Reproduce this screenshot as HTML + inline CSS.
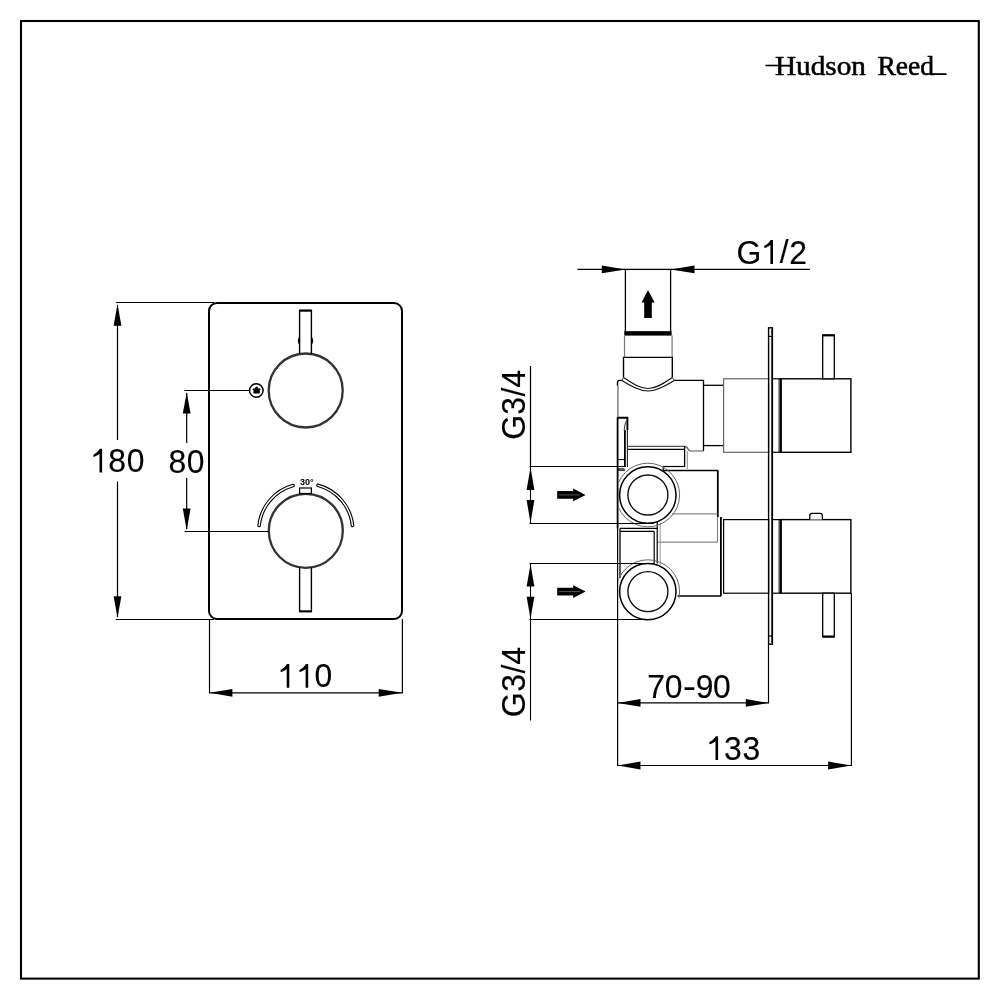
<!DOCTYPE html>
<html><head><meta charset="utf-8"><style>
html,body{margin:0;padding:0;background:#fff;width:1000px;height:1000px;overflow:hidden}
svg{display:block;will-change:transform}
</style></head><body>
<svg width="1000" height="1000" viewBox="0 0 1000 1000">
<defs><clipPath id="cl"><rect x="618.5" y="0" width="400" height="1000"/></clipPath></defs>
<rect x="21" y="21" width="957.8" height="957.6" fill="none" stroke="#000" stroke-width="2.1"/>
<text x="775" y="75" font-family="Liberation Serif" font-size="28" textLength="91" lengthAdjust="spacingAndGlyphs" stroke="#000" stroke-width="0.55">Hudson</text>
<text x="877.5" y="75" font-family="Liberation Serif" font-size="28" textLength="56.5" lengthAdjust="spacingAndGlyphs" stroke="#000" stroke-width="0.55">Reed</text>
<line x1="765.5" y1="65.5" x2="779" y2="65.5" stroke="#000" stroke-width="1.6"/>
<line x1="930" y1="74.1" x2="946.5" y2="74.1" stroke="#000" stroke-width="1.8"/>
<rect x="209" y="303" width="193" height="316" rx="8" ry="8" fill="none" stroke="#000" stroke-width="2"/>
<circle cx="305.7" cy="390.5" r="37" fill="none" stroke="#333" stroke-width="2.3"/>
<circle cx="305.8" cy="530.8" r="37" fill="none" stroke="#333" stroke-width="2.3"/>
<path d="M299.6,354 L299.6,310.5 L311.4,310.5 L311.4,354" fill="none" stroke="#000" stroke-width="1.4"/>
<line x1="299.2" y1="310.6" x2="311.8" y2="310.6" stroke="#000" stroke-width="2"/>
<path d="M299.2,337.5 Q297.6,340.8 299.2,344" fill="none" stroke="#000" stroke-width="1.2"/>
<path d="M311.8,337.5 Q313.4,340.8 311.8,344" fill="none" stroke="#000" stroke-width="1.2"/>
<path d="M299.6,567.5 L299.6,611.4 L311.4,611.4 L311.4,567.5" fill="none" stroke="#000" stroke-width="1.4"/>
<line x1="299.2" y1="611.4" x2="311.8" y2="611.4" stroke="#000" stroke-width="2"/>
<rect x="299.6" y="488" width="11.8" height="5.5" fill="#fff" stroke="#000" stroke-width="1.2"/>
<circle cx="256.3" cy="390.5" r="6.8" fill="#fff" stroke="#000" stroke-width="1.5"/>
<path d="M253.4,393.6 L253.4,390.2 L252.4,389.3 L253.6,388.3 L254.8,388.8 Q255.2,386.6 256.6,386.6 Q258,386.6 258.4,388.8 L259.6,388.3 L260.8,389.3 L259.8,390.2 L259.8,393.6 Z" fill="#000"/>
<text x="306.8" y="485.2" font-family="Liberation Sans" font-size="9" font-weight="bold" text-anchor="middle">30°</text>
<path d="M259.09,525.46 A47,47 0 0 1 293.00,485.48" fill="none" stroke="#000" stroke-width="3.6" stroke-linecap="round"/>
<path d="M259.09,525.46 A47,47 0 0 1 293.00,485.48" fill="none" stroke="#fff" stroke-width="1.4" stroke-linecap="round"/>
<path d="M318.04,485.32 A47,47 0 0 1 352.51,525.46" fill="none" stroke="#000" stroke-width="3.6" stroke-linecap="round"/>
<path d="M318.04,485.32 A47,47 0 0 1 352.51,525.46" fill="none" stroke="#fff" stroke-width="1.4" stroke-linecap="round"/>
<line x1="115.8" y1="302.5" x2="214" y2="302.5" stroke="#000" stroke-width="1.2"/>
<line x1="115.8" y1="619.5" x2="214" y2="619.5" stroke="#000" stroke-width="1.2"/>
<line x1="117.5" y1="305" x2="117.5" y2="440" stroke="#000" stroke-width="1.2"/>
<line x1="117.5" y1="481.5" x2="117.5" y2="617" stroke="#000" stroke-width="1.2"/>
<polygon points="117.5,304 113.6,325.7 121.4,325.7"/>
<polygon points="117.5,617.8 113.6,596.2 121.4,596.2"/>
<path d="M102.10,448.80 L102.10,472.40 L99.50,472.40 L99.50,453.80 C97.90,455.00 95.90,456.20 93.90,456.90 L93.30,456.40 L93.40,454.70 C95.90,453.40 98.30,451.40 99.80,448.80 Z" fill="#000"/>
<text transform="translate(117.10,472.10) scale(0.95,1)" x="-9.34" y="0" font-family="Liberation Sans" font-size="33.6" stroke="#000" stroke-width="0.15">8</text>
<text transform="translate(135.55,472.10) scale(0.95,1)" x="-9.34" y="0" font-family="Liberation Sans" font-size="33.6" stroke="#000" stroke-width="0.15">0</text>
<line x1="184.4" y1="390.5" x2="249.5" y2="390.5" stroke="#000" stroke-width="1.2"/>
<line x1="184.6" y1="531.5" x2="268.5" y2="531.5" stroke="#000" stroke-width="1.2"/>
<line x1="186.7" y1="393" x2="186.7" y2="443" stroke="#000" stroke-width="1.2"/>
<line x1="186.7" y1="478" x2="186.7" y2="529" stroke="#000" stroke-width="1.2"/>
<polygon points="186.7,392.2 182.79999999999998,413.5 190.6,413.5"/>
<polygon points="186.7,530.3 182.79999999999998,508.4 190.6,508.4"/>
<text transform="translate(177.30,472.60) scale(0.95,1)" x="-9.34" y="0" font-family="Liberation Sans" font-size="33.6" stroke="#000" stroke-width="0.15">8</text>
<text transform="translate(195.50,472.60) scale(0.95,1)" x="-9.34" y="0" font-family="Liberation Sans" font-size="33.6" stroke="#000" stroke-width="0.15">0</text>
<line x1="209.5" y1="619" x2="209.5" y2="693.6" stroke="#000" stroke-width="1.2"/>
<line x1="402.4" y1="619" x2="402.4" y2="693.6" stroke="#000" stroke-width="1.2"/>
<line x1="210" y1="692.8" x2="402" y2="692.8" stroke="#000" stroke-width="1.2"/>
<polygon points="209.7,692.8 232.4,688.9 232.4,696.6999999999999"/>
<polygon points="402.3,692.8 378.7,688.9 378.7,696.6999999999999"/>
<path d="M289.30,664.00 L289.30,687.70 L286.70,687.70 L286.70,669.00 C285.10,670.20 283.10,671.40 281.10,672.10 L280.50,671.60 L280.60,669.90 C283.10,668.60 285.50,666.60 287.00,664.00 Z" fill="#000"/>
<path d="M308.20,664.00 L308.20,687.70 L305.60,687.70 L305.60,669.00 C304.00,670.20 302.00,671.40 300.00,672.10 L299.40,671.60 L299.50,669.90 C302.00,668.60 304.40,666.60 305.90,664.00 Z" fill="#000"/>
<text transform="translate(323.45,687.40) scale(0.95,1)" x="-9.34" y="0" font-family="Liberation Sans" font-size="33.6" stroke="#000" stroke-width="0.15">0</text>
<line x1="577.5" y1="269.4" x2="625.4" y2="269.4" stroke="#000" stroke-width="1.2"/>
<line x1="670.6" y1="269.4" x2="810" y2="269.4" stroke="#000" stroke-width="1.2"/>
<polygon points="625.4,269.4 601.8,265.5 601.8,273.29999999999995"/>
<polygon points="670.6,269.4 694.5,265.5 694.5,273.29999999999995"/>
<text transform="translate(748.60,263.70) scale(0.95,1)" x="-12.66" y="0" font-family="Liberation Sans" font-size="33.6" stroke="#000" stroke-width="0.15">G</text>
<path d="M773.00,239.90 L773.00,264.00 L770.40,264.00 L770.40,244.90 C768.80,246.10 766.80,247.30 764.80,248.00 L764.20,247.50 L764.30,245.80 C766.80,244.50 769.20,242.50 770.70,239.90 Z" fill="#000"/>
<text transform="translate(784.20,263.40) scale(0.95,1)" x="-4.67" y="0" font-family="Liberation Sans" font-size="33.6" stroke="#000" stroke-width="0.15">/</text>
<text transform="translate(798.00,264.00) scale(0.95,1)" x="-9.34" y="0" font-family="Liberation Sans" font-size="33.6" stroke="#000" stroke-width="0.15">2</text>
<rect x="625.4" y="269.4" width="45.2" height="63" fill="none" stroke="#000" stroke-width="1.3"/>
<rect x="624.3" y="331.2" width="47.3" height="4.4" fill="#000"/>
<polygon points="648,290 654.6,302.4 651.8,302.4 651.8,318 644.2,318 644.2,302.4 641.6,302.4" fill="#000"/>
<line x1="624.5" y1="335.6" x2="624.5" y2="357.1" stroke="#777" stroke-width="1.2"/>
<line x1="672.1" y1="335.6" x2="672.1" y2="357.1" stroke="#777" stroke-width="1.2"/>
<path d="M623.5,377.6 L623.5,357.4 L672.3,357.4 L672.3,377.6" fill="none" stroke="#000" stroke-width="1.4"/>
<path d="M623.5,377.4 C633,383.5 640,388.5 648,388.5 C656,388.5 663,383.5 672.3,377.4" fill="none" stroke="#111" stroke-width="1.2"/>
<path d="M621.8,380.4 C632,386.5 640,391 648,391 C656,391 664,386.5 674.3,380.4" fill="none" stroke="#111" stroke-width="1.2"/>
<path d="M623.5,377.4 L621.8,380.4 M672.3,377.4 L674.3,380.4" fill="none" stroke="#333" stroke-width="1"/>
<path d="M674.3,380.4 L703.5,380.4 L703.5,451" fill="none" stroke="#000" stroke-width="1.3"/>
<path d="M703.5,451 L690.8,451 Q688.8,451 688,449 Q687,446.4 684.4,446.4 L627.5,446.4" fill="none" stroke="#555" stroke-width="1.2"/>
<line x1="627.5" y1="449.3" x2="684.6" y2="449.3" stroke="#000" stroke-width="1.3"/>
<line x1="684.6" y1="446.4" x2="684.6" y2="466.6" stroke="#000" stroke-width="1.3"/>
<line x1="687.3" y1="451" x2="687.3" y2="469" stroke="#888" stroke-width="1"/>
<line x1="663.2" y1="466.5" x2="684.6" y2="466.5" stroke="#000" stroke-width="1.2"/>
<line x1="663.2" y1="466.5" x2="663.2" y2="470.5" stroke="#000" stroke-width="1.2"/>
<line x1="617.6" y1="470.2" x2="625" y2="470.2" stroke="#000" stroke-width="1.2"/>
<path d="M621.8,380.4 L619.4,380.4 Q617.5,380.6 617.5,383 L617.5,386" fill="none" stroke="#000" stroke-width="1.4"/>
<line x1="617.9" y1="385" x2="617.9" y2="417.3" stroke="#888" stroke-width="1.6"/>
<path d="M617.4,417.8 L627.4,417.8 L627.4,430" fill="none" stroke="#000" stroke-width="1.9"/>
<line x1="627.4" y1="430" x2="627.4" y2="467" stroke="#222" stroke-width="1.1"/>
<path d="M624.9,430 L624.9,467" fill="none" stroke="#000" stroke-width="1.8"/>
<path d="M624.3,431 Q624.5,423 627,420" fill="none" stroke="#444" stroke-width="1.1"/>
<line x1="618" y1="468.8" x2="624.5" y2="468.8" stroke="#000" stroke-width="1"/>
<line x1="618" y1="459.6" x2="624.8" y2="459.6" stroke="#000" stroke-width="1"/>
<line x1="617.6" y1="417.3" x2="617.6" y2="528.4" stroke="#000" stroke-width="1.8"/>
<line x1="703.5" y1="385.3" x2="723.5" y2="385.3" stroke="#000" stroke-width="1.3"/>
<line x1="703.5" y1="445.6" x2="723.5" y2="445.6" stroke="#000" stroke-width="1.3"/>
<rect x="723.6" y="378.8" width="45" height="73.5" fill="none" stroke="#666" stroke-width="1.2"/>
<rect x="768.6" y="327.8" width="3.8" height="316.4" fill="none" stroke="#000" stroke-width="1.4"/>
<line x1="768.6" y1="336.4" x2="772.4" y2="336.4" stroke="#000" stroke-width="1.1"/>
<line x1="768.6" y1="636" x2="772.4" y2="636" stroke="#000" stroke-width="1.1"/>
<line x1="772.1" y1="329" x2="772.1" y2="643" stroke="#000" stroke-width="1.5"/>
<line x1="772.4" y1="378.8" x2="780.2" y2="378.8" stroke="#000" stroke-width="1.2"/>
<line x1="772.4" y1="452.3" x2="780.2" y2="452.3" stroke="#000" stroke-width="1.2"/>
<line x1="779" y1="378.8" x2="779" y2="452.3" stroke="#000" stroke-width="0.8"/>
<rect x="780.5" y="378.8" width="70.4" height="73.5" fill="none" stroke="#000" stroke-width="1.4"/>
<line x1="780.8" y1="378.8" x2="780.8" y2="452.3" stroke="#000" stroke-width="2.2"/>
<line x1="772.4" y1="519.6" x2="780.2" y2="519.6" stroke="#000" stroke-width="1.2"/>
<line x1="772.4" y1="593.2" x2="780.2" y2="593.2" stroke="#000" stroke-width="1.2"/>
<line x1="779" y1="519.6" x2="779" y2="593.2" stroke="#000" stroke-width="0.8"/>
<rect x="780.5" y="519.6" width="70.4" height="73.6" fill="none" stroke="#000" stroke-width="1.4"/>
<line x1="780.8" y1="519.6" x2="780.8" y2="593.2" stroke="#000" stroke-width="2.2"/>
<line x1="851" y1="452.3" x2="851" y2="452.3" stroke="#000" stroke-width="1.2"/>
<rect x="822.7" y="335" width="11.6" height="43.8" fill="#fff" stroke="#000" stroke-width="1.3"/>
<line x1="822.7" y1="335.4" x2="834.3" y2="335.4" stroke="#000" stroke-width="2"/>
<rect x="822.7" y="593.2" width="11.6" height="43.7" fill="#fff" stroke="#000" stroke-width="1.3"/>
<line x1="822.7" y1="636.5" x2="834.3" y2="636.5" stroke="#000" stroke-width="2"/>
<path d="M809.8,519.6 L809.8,515.5 Q809.8,513.3 812,513.3 L820.2,513.3 Q822.4,513.3 822.4,515.5 L822.4,519.6" fill="#fff" stroke="#000" stroke-width="1.3"/>
<rect x="723.6" y="519.6" width="45" height="73.6" fill="none" stroke="#000" stroke-width="1.2"/>
<line x1="720.9" y1="517" x2="720.9" y2="596" stroke="#000" stroke-width="1.8"/>
<line x1="677.6" y1="596" x2="721" y2="596" stroke="#000" stroke-width="1.3"/>
<line x1="663.2" y1="470.5" x2="717.8" y2="470.5" stroke="#000" stroke-width="1.3"/>
<line x1="717.8" y1="470.5" x2="717.8" y2="517" stroke="#000" stroke-width="1.8"/>
<line x1="717.5" y1="517" x2="717.5" y2="542.2" stroke="#888" stroke-width="1.2"/>
<line x1="672" y1="513.8" x2="717.5" y2="513.8" stroke="#888" stroke-width="1.2"/>
<line x1="657.8" y1="542.2" x2="717.5" y2="542.2" stroke="#888" stroke-width="1.2"/>
<line x1="620" y1="528.4" x2="657.2" y2="528.4" stroke="#000" stroke-width="1.2"/>
<line x1="620.3" y1="531.4" x2="654.2" y2="531.4" stroke="#000" stroke-width="1.2"/>
<line x1="620" y1="528.4" x2="620" y2="578" stroke="#000" stroke-width="1.3"/>
<line x1="654.2" y1="531.4" x2="654.2" y2="563.5" stroke="#000" stroke-width="1.2"/>
<line x1="657.2" y1="520" x2="657.2" y2="563.5" stroke="#000" stroke-width="1.2"/>
<line x1="660.2" y1="523" x2="660.2" y2="565" stroke="#999" stroke-width="1"/>
<circle cx="647.8" cy="495.0" r="31.8" fill="none" stroke="#666" stroke-width="1" clip-path="url(#cl)"/>
<path d="M616.69,584.99 A31.8,31.8 0 0 1 678.91,598.21" fill="none" stroke="#666" stroke-width="1" clip-path="url(#cl)"/>
<circle cx="647.8" cy="495.0" r="28.2" fill="#fff" stroke="#000" stroke-width="1.5"/>
<circle cx="647.9" cy="495.0" r="20" fill="none" stroke="#111" stroke-width="1.4"/>
<circle cx="647.8" cy="591.6" r="28.2" fill="#fff" stroke="#000" stroke-width="1.5"/>
<circle cx="647.9" cy="591.6" r="20" fill="none" stroke="#111" stroke-width="1.4"/>
<line x1="530.5" y1="366" x2="530.5" y2="466.4" stroke="#000" stroke-width="1.2"/>
<line x1="529.5" y1="466.5" x2="626" y2="466.5" stroke="#000" stroke-width="1.2"/>
<line x1="529.5" y1="523.5" x2="654" y2="523.5" stroke="#000" stroke-width="1.2"/>
<line x1="530.5" y1="467" x2="530.5" y2="523" stroke="#000" stroke-width="1.1"/>
<polygon points="530.5,467.2 526.6,490 534.4,490"/>
<polygon points="530.5,522.8 526.6,500 534.4,500"/>
<line x1="529.5" y1="563.5" x2="654" y2="563.5" stroke="#000" stroke-width="1.2"/>
<line x1="529.5" y1="619.5" x2="646" y2="619.5" stroke="#000" stroke-width="1.2"/>
<line x1="530.5" y1="564" x2="530.5" y2="720.5" stroke="#000" stroke-width="1.1"/>
<polygon points="530.5,564.2 526.6,586.5 534.4,586.5"/>
<polygon points="530.5,618.8 526.6,596.7 534.4,596.7"/>
<polygon points="557.2,491.09999999999997 573.2,491.09999999999997 573.2,488.59999999999997 585.6,494.9 573.2,501.2 573.2,498.7 557.2,498.7" fill="#000"/>
<line x1="559" y1="494.9" x2="580" y2="494.9" stroke="#777" stroke-width="0.7"/>
<polygon points="557.2,587.8000000000001 573.2,587.8000000000001 573.2,585.3000000000001 585.6,591.6 573.2,597.9 573.2,595.4 557.2,595.4" fill="#000"/>
<line x1="559" y1="591.6" x2="580" y2="591.6" stroke="#777" stroke-width="0.7"/>
<text transform="translate(525.10,379.10) rotate(-90) scale(0.95,1)" x="-9.24" y="0" font-family="Liberation Sans" font-size="33.6" stroke="#000" stroke-width="0.15">4</text>
<text transform="translate(525.10,392.00) rotate(-90) scale(0.95,1)" x="-4.67" y="0" font-family="Liberation Sans" font-size="33.6" stroke="#000" stroke-width="0.15">/</text>
<text transform="translate(525.10,405.90) rotate(-90) scale(0.95,1)" x="-9.24" y="0" font-family="Liberation Sans" font-size="33.6" stroke="#000" stroke-width="0.15">3</text>
<text transform="translate(525.10,427.75) rotate(-90) scale(0.95,1)" x="-12.66" y="0" font-family="Liberation Sans" font-size="33.6" stroke="#000" stroke-width="0.15">G</text>
<text transform="translate(525.10,656.10) rotate(-90) scale(0.95,1)" x="-9.24" y="0" font-family="Liberation Sans" font-size="33.6" stroke="#000" stroke-width="0.15">4</text>
<text transform="translate(525.10,669.00) rotate(-90) scale(0.95,1)" x="-4.67" y="0" font-family="Liberation Sans" font-size="33.6" stroke="#000" stroke-width="0.15">/</text>
<text transform="translate(525.10,682.90) rotate(-90) scale(0.95,1)" x="-9.24" y="0" font-family="Liberation Sans" font-size="33.6" stroke="#000" stroke-width="0.15">3</text>
<text transform="translate(525.10,705.30) rotate(-90) scale(0.95,1)" x="-12.66" y="0" font-family="Liberation Sans" font-size="33.6" stroke="#000" stroke-width="0.15">G</text>
<line x1="617.6" y1="528" x2="617.6" y2="766" stroke="#000" stroke-width="1.2"/>
<line x1="768.5" y1="644" x2="768.5" y2="703.5" stroke="#000" stroke-width="1.2"/>
<line x1="618" y1="702.9" x2="768" y2="702.9" stroke="#000" stroke-width="1.2"/>
<polygon points="617.6,702.9 640.5,699.0 640.5,706.8"/>
<polygon points="768.2,702.9 745.8,699.0 745.8,706.8"/>
<text transform="translate(656.15,698.20) scale(0.95,1)" x="-9.36" y="0" font-family="Liberation Sans" font-size="33.6" stroke="#000" stroke-width="0.15">7</text>
<text transform="translate(673.55,697.90) scale(0.95,1)" x="-9.34" y="0" font-family="Liberation Sans" font-size="33.6" stroke="#000" stroke-width="0.15">0</text>
<text transform="translate(689.30,697.90) scale(1.15,1)" x="-5.59" y="0" font-family="Liberation Sans" font-size="33.6" stroke="#000" stroke-width="0.15">-</text>
<text transform="translate(704.55,697.90) scale(0.95,1)" x="-9.34" y="0" font-family="Liberation Sans" font-size="33.6" stroke="#000" stroke-width="0.15">9</text>
<text transform="translate(721.75,697.90) scale(0.95,1)" x="-9.34" y="0" font-family="Liberation Sans" font-size="33.6" stroke="#000" stroke-width="0.15">0</text>
<line x1="851.4" y1="593" x2="851.4" y2="766" stroke="#000" stroke-width="1.2"/>
<line x1="618" y1="765.5" x2="851" y2="765.5" stroke="#000" stroke-width="1.2"/>
<polygon points="617.6,765.5 640.5,761.6 640.5,769.4"/>
<polygon points="851.4,765.5 828.1,761.6 828.1,769.4"/>
<path d="M718.10,736.20 L718.10,759.90 L715.50,759.90 L715.50,741.20 C713.90,742.40 711.90,743.60 709.90,744.30 L709.30,743.80 L709.40,742.10 C711.90,740.80 714.30,738.80 715.80,736.20 Z" fill="#000"/>
<text transform="translate(732.80,759.60) scale(0.95,1)" x="-9.24" y="0" font-family="Liberation Sans" font-size="33.6" stroke="#000" stroke-width="0.15">3</text>
<text transform="translate(751.25,759.60) scale(0.95,1)" x="-9.24" y="0" font-family="Liberation Sans" font-size="33.6" stroke="#000" stroke-width="0.15">3</text>
</svg>
</body></html>
